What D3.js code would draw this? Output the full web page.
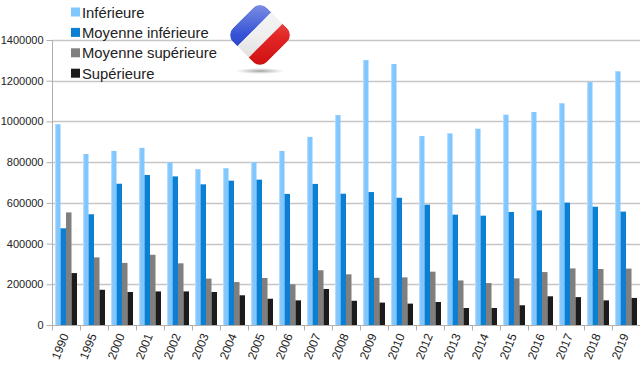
<!DOCTYPE html>
<html><head><meta charset="utf-8">
<script src="https://cdn.jsdelivr.net/npm/d3@7/dist/d3.min.js"></script>
<style>body{margin:0;background:#fff}svg{display:block}text{font-family:"Liberation Sans",Arial,sans-serif}</style>
</head><body><svg id="c" width="640" height="368"></svg>
<script>
const years = ["1990","1995","2000","2001","2002","2003","2004","2005","2006","2007","2008","2009","2010","2012","2013","2014","2015","2016","2017","2018","2019"];
const seriesNames = ["Inférieure","Moyenne inférieure","Moyenne supérieure","Supérieure"];
const inferieure = [986000,840000,855000,870000,799000,765000,770000,799000,855000,924000,1031000,1301000,1282000,928000,941000,964000,1033000,1046000,1089000,1193000,1246000];
const moyInf = [475000,544000,694000,737000,730000,691000,709000,714000,644000,693000,645000,653000,625000,591000,542000,537000,555000,563000,601000,581000,557000];
const moySup = [553000,332000,305000,345000,303000,228000,211000,231000,200000,269000,249000,232000,234000,262000,219000,206000,229000,260000,278000,275000,277000];
const superieure = [255000,173000,162000,165000,165000,162000,146000,129000,121000,177000,119000,110000,105000,113000,83500,83500,97000,141000,137000,121000,133000];
const yTicks = [0,200000,400000,600000,800000,1000000,1200000,1400000];
const colors = ["#80c6ff","#0a7fd4","#7f7f7f","#1c1c1c"];
const seriesValues = [inferieure, moyInf, moySup, superieure];

const svg = d3.select("#c");
const y = d3.scaleLinear().domain([0,1400000]).range([325,40]);
const x = d3.scaleBand().domain(years).range([52,640]);
const x1 = d3.scaleBand().domain(d3.range(4)).range([3,25]);

// gridlines
svg.append("g").selectAll("line").data(yTicks.filter(d=>d>0)).join("line")
  .attr("x1",52).attr("x2",640).attr("y1",d=>Math.round(y(d))+0.5).attr("y2",d=>Math.round(y(d))+0.5)
  .attr("stroke","#c6c6c6").attr("stroke-width",1.5);

// y axis
const ya = svg.append("g").attr("transform","translate(52.5,0)")
  .call(d3.axisLeft(y).tickValues(yTicks).tickSize(6).tickPadding(3).tickFormat(d3.format("d")));
ya.select(".domain").attr("stroke","#b0b0b0").attr("d","M0,40V325.5");
ya.selectAll(".tick line").attr("stroke","#b0b0b0");
ya.selectAll("text").attr("font-size",11).attr("fill","#222").style("font-family","'Liberation Sans',Arial,sans-serif");

// bars
const g = svg.append("g");
years.forEach((yr,i)=>{
  seriesValues.forEach((arr,s)=>{
    const bx = x(yr)+x1(s), bw = x1.bandwidth(), by = y(arr[i]);
    g.append("rect").attr("x",bx).attr("y",by).attr("width",bw).attr("height",y(0)-by).attr("fill",colors[s]);
    if(s===0){
      g.append("rect").attr("x",bx).attr("y",by).attr("width",1.2).attr("height",y(0)-by).attr("fill","#b5dcff");
    }
  });
});

// x axis
const xa = svg.append("g").attr("transform","translate(0,325.5)");
xa.append("line").attr("x1",52).attr("x2",640).attr("stroke","#b0b0b0");
xa.selectAll("line.t").data(years).join("line").attr("class","t")
  .attr("x1",d=>Math.round(x(d))+0.5).attr("x2",d=>Math.round(x(d))+0.5).attr("y1",0).attr("y2",5).attr("stroke","#b0b0b0");
xa.selectAll("text").data(years).join("text")
  .attr("transform",d=>`translate(${x(d)+x.bandwidth()/2+3},${10}) rotate(-68)`)
  .attr("text-anchor","end").attr("font-size",12).attr("fill","#222").text(d=>d);

// legend
const lg = svg.append("g");
seriesNames.forEach((n,i)=>{
  const cy = 12 + i*20.4;
  lg.append("rect").attr("x",71).attr("y",cy-4.5).attr("width",9).attr("height",9).attr("fill",colors[i]);
  lg.append("text").attr("x",82).attr("y",cy+5.5).attr("font-size",14.8).attr("fill","#222").text(n);
});

// logo
const defs = svg.append("defs");
defs.append("clipPath").attr("id","lc").append("rect").attr("x",-24).attr("y",-24).attr("width",48).attr("height",48).attr("rx",10);
const sh = defs.append("radialGradient").attr("id","sh");
sh.append("stop").attr("offset","0").attr("stop-color","#888").attr("stop-opacity",0.8);
sh.append("stop").attr("offset","1").attr("stop-color","#aaa").attr("stop-opacity",0);
const gl = defs.append("linearGradient").attr("id","gl").attr("x1",0).attr("y1",0).attr("x2",0).attr("y2",1);
gl.append("stop").attr("offset","0").attr("stop-color","#fff").attr("stop-opacity",0.45);
gl.append("stop").attr("offset","0.5").attr("stop-color","#fff").attr("stop-opacity",0.1);
gl.append("stop").attr("offset","1").attr("stop-color","#000").attr("stop-opacity",0.08);
svg.append("ellipse").attr("cx",260).attr("cy",71).attr("rx",25).attr("ry",3).attr("fill","url(#sh)");
const logo = svg.append("g").attr("transform","translate(260,35) rotate(45)");
const lcg = logo.append("g").attr("clip-path","url(#lc)");
lcg.append("rect").attr("x",-24).attr("y",-24).attr("width",16).attr("height",48).attr("fill","#1f3fd0");
lcg.append("rect").attr("x",-8).attr("y",-24).attr("width",16).attr("height",48).attr("fill","#eeeeee");
lcg.append("rect").attr("x",8).attr("y",-24).attr("width",16).attr("height",48).attr("fill","#e01010");
defs.append("clipPath").attr("id","lc2").append("rect").attr("x",-24).attr("y",-24).attr("width",48).attr("height",48).attr("rx",10).attr("transform","rotate(45)");
svg.append("g").attr("transform","translate(260,35)").append("rect")
  .attr("x",-34).attr("y",-34).attr("width",68).attr("height",68).attr("fill","url(#gl)")
  .attr("clip-path","url(#lc2)");
</script></body></html>
